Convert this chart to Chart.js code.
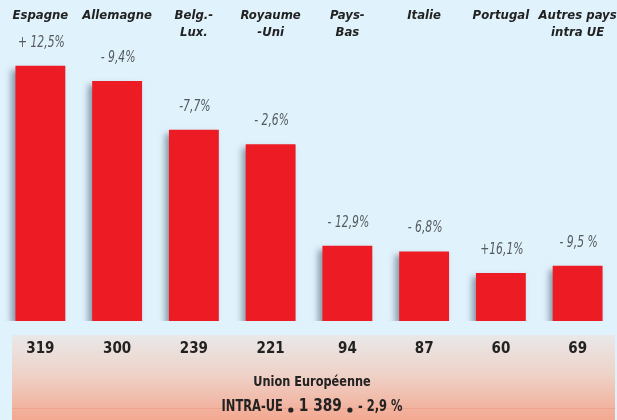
<!DOCTYPE html>
<html>
<head>
<meta charset="utf-8">
<script src="https://cdn.jsdelivr.net/npm/chart.js@4/dist/chart.umd.min.js"></script>
<style>
  html, body { margin: 0; padding: 0; background: #e0f2fc; }
  #wrap { width: 617px; height: 420px; }
</style>
</head>
<body>
<div id="wrap"><canvas id="c" width="617" height="420"></canvas></div>
<script>
const categories = [['Espagne'], ['Allemagne'], ['Belg.-', 'Lux.'], ['Royaume', '-Uni'], ['Pays-', 'Bas'], ['Italie'], ['Portugal'], ['Autres pays', 'intra UE']];
const values = [319, 300, 239, 221, 94, 87, 60, 69];
const changes = ['+ 12,5%', '- 9,4%', '-7,7%', '- 2,6%', '- 12,9%', '- 6,8%', '+16,1%', '- 9,5 %'];
const valueLabels = ['319', '300', '239', '221', '94', '87', '60', '69'];
const totalTitle = 'Union Européenne';
const totalParts = ['INTRA-UE', '1 389', '- 2,9 %'];

const FAM = '"Liberation Sans Narrow", "DejaVu Sans Condensed", sans-serif';

function squeezedText(ctx, text, x, y, sx) {
  ctx.save();
  ctx.translate(x, y);
  ctx.scale(sx, 1);
  ctx.fillText(text, 0, 0);
  ctx.restore();
}

const backgroundPlugin = {
  id: 'bg',
  beforeDraw(chart) {
    const ctx = chart.ctx;
    ctx.save();
    ctx.fillStyle = '#e0f2fc';
    ctx.fillRect(0, 0, chart.width, chart.height);
    const g = ctx.createLinearGradient(0, 335, 0, 420);
    g.addColorStop(0, '#e9e8e8');
    g.addColorStop(0.45, '#eed3c9');
    g.addColorStop(1, '#f3a891');
    ctx.fillStyle = g;
    ctx.fillRect(12, 335, 603, 85);
    ctx.fillStyle = 'rgba(232,140,110,0.35)';
    ctx.fillRect(12, 408, 603, 1);
    ctx.restore();
  }
};

const shadowLabelPlugin = {
  id: 'shadowLabels',
  beforeDatasetsDraw(chart) {
    const ctx = chart.ctx;
    ctx.save();
    ctx.shadowColor = 'rgba(70,90,110,0.55)';
    ctx.shadowBlur = 6;
    ctx.shadowOffsetX = -4;
    ctx.shadowOffsetY = 4;
  },
  afterDatasetsDraw(chart) {
    const ctx = chart.ctx;
    ctx.restore();
    const meta = chart.getDatasetMeta(0);
    ctx.save();
    ctx.fillStyle = '#555a5e';
    ctx.font = 'italic 15px ' + FAM;
    ctx.textAlign = 'center';
    ctx.textBaseline = 'middle';
    meta.data.forEach((bar, i) => {
      squeezedText(ctx, changes[i], bar.x + 1, bar.y - 23, 0.8);
    });
    ctx.restore();
  },
  afterDraw(chart) {
    const ctx = chart.ctx;
    const cx = 312;
    ctx.save();
    ctx.fillStyle = '#222';
    ctx.textBaseline = 'middle';
    ctx.textAlign = 'center';
    ctx.font = 'bold 14px ' + FAM;
    squeezedText(ctx, totalTitle, cx, 382, 0.9);
    // second line: INTRA-UE • 1 389 • - 2,9 %
    const sx = 0.85;
    const f1 = 'bold 15px ' + FAM;
    const f2 = 'bold 18px ' + FAM;
    const gap = 8;
    ctx.font = f1;
    const w1 = ctx.measureText(totalParts[0]).width * sx;
    const w3 = ctx.measureText(totalParts[2]).width * sx;
    ctx.font = f2;
    const w2 = ctx.measureText(totalParts[1]).width * sx;
    let x = cx - (w1 + w2 + w3 + gap * 4) / 2;
    ctx.textAlign = 'left';
    ctx.font = f1;
    squeezedText(ctx, totalParts[0], x, 407, sx); x += w1 + gap;
    ctx.beginPath(); ctx.arc(x, 410, 2.6, 0, Math.PI * 2); ctx.fill(); x += gap;
    ctx.font = f2;
    squeezedText(ctx, totalParts[1], x, 406, sx); x += w2 + gap;
    ctx.beginPath(); ctx.arc(x, 410, 2.6, 0, Math.PI * 2); ctx.fill(); x += gap;
    ctx.font = f1;
    squeezedText(ctx, totalParts[2], x, 407, sx);
    ctx.restore();
  }
};

new Chart(document.getElementById('c'), {
  type: 'bar',
  data: {
    labels: categories,
    datasets: [{
      data: values,
      backgroundColor: '#ed1c24',
      borderWidth: 0,
      barPercentage: 0.65,
      categoryPercentage: 1.0
    }]
  },
  options: {
    responsive: false,
    animation: false,
    layout: { padding: { left: 2, right: 1, top: 0, bottom: 0 } },
    plugins: { legend: { display: false }, tooltip: { enabled: false }, title: { display: false } },
    scales: {
      x: {
        position: 'top',
        offset: true,
        grid: { display: false, drawTicks: false },
        border: { display: false },
        ticks: {
          color: '#222',
          padding: 4,
          crossAlign: 'far',
          maxRotation: 0,
          autoSkip: false,
          font: { family: FAM, size: 13, weight: 'bold', style: 'italic', lineHeight: 1.28 }
        },
        afterFit(scale) { scale.height = 45; scale.paddingLeft = 0; scale.paddingRight = 0; }
      },
      xb: {
        type: 'category',
        position: 'bottom',
        labels: valueLabels,
        offset: true,
        grid: { display: false, drawTicks: false },
        border: { display: false },
        ticks: {
          color: '#222',
          padding: 19,
          maxRotation: 0,
          autoSkip: false,
          font: { family: FAM, size: 15, weight: 'bold', lineHeight: 1.2 }
        },
        afterFit(scale) { scale.height = 99; scale.paddingLeft = 0; scale.paddingRight = 0; }
      },
      y: {
        display: false,
        min: 0,
        max: 345
      }
    }
  },
  plugins: [backgroundPlugin, shadowLabelPlugin]
});
</script>
</body>
</html>
